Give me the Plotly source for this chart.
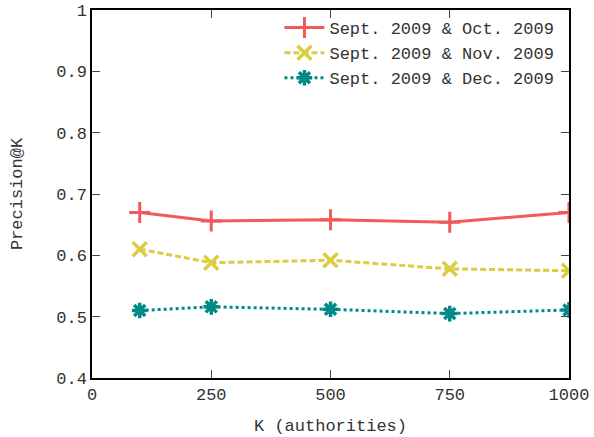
import plotly.graph_objects as go

k_values = [100, 250, 500, 750, 1000]
oct_values = [0.670, 0.656, 0.658, 0.654, 0.670]
nov_values = [0.610, 0.588, 0.592, 0.578, 0.575]
dec_values = [0.510, 0.516, 0.512, 0.505, 0.511]
series_names = ["Sept. 2009 & Oct. 2009", "Sept. 2009 & Nov. 2009", "Sept. 2009 & Dec. 2009"]
x_ticks = [0, 250, 500, 750, 1000]
y_ticks = [0.4, 0.5, 0.6, 0.7, 0.8, 0.9, 1.0]
y_tick_text = ["0.4", "0.5", "0.6", "0.7", "0.8", "0.9", "1"]

FONT = "Liberation Mono, Courier New, monospace"
TXT = "#333333"

fig = go.Figure()
fig.add_trace(go.Scatter(
    x=k_values, y=oct_values, name=series_names[0], mode="lines+markers",
    line=dict(color="#f05a5a", width=3, dash="solid"),
    marker=dict(symbol="cross-thin", size=15, line=dict(color="#f05a5a", width=3)),
))
fig.add_trace(go.Scatter(
    x=k_values, y=nov_values, name=series_names[1], mode="lines+markers",
    line=dict(color="#dccc40", width=3, dash="6px,3px"),
    marker=dict(symbol="x-thin", size=14, line=dict(color="#dccc40", width=3.5)),
))
fig.add_trace(go.Scatter(
    x=k_values, y=dec_values, name=series_names[2], mode="lines+markers",
    line=dict(color="#008a88", width=3, dash="3px,3px"),
    marker=dict(symbol="asterisk-open", size=13, line=dict(color="#008a88", width=3.5)),
))

fig.update_layout(
    width=594, height=437,
    margin=dict(l=92, r=25, t=10, b=59, autoexpand=False),
    paper_bgcolor="white", plot_bgcolor="white",
    font=dict(family=FONT, size=17, color=TXT),
    showlegend=True,
    legend=dict(x=0.98, y=1.0, xanchor="right", yanchor="top",
                bgcolor="rgba(255,255,255,0)", font=dict(family=FONT, size=17, color=TXT),
                tracegroupgap=0, itemwidth=40),
    xaxis=dict(
        range=[0, 1000], tickvals=x_ticks, ticks="inside", ticklen=8, tickwidth=1,
        showline=True, linecolor="black", linewidth=1.5, mirror="ticks",
        showgrid=False, zeroline=False, automargin=False,
        title=dict(text="K (authorities)", font=dict(family=FONT, size=17), standoff=15),
    ),
    yaxis=dict(
        range=[0.4, 1.0], tickvals=y_ticks, ticktext=y_tick_text, ticks="inside", ticklen=8, tickwidth=1,
        showline=True, linecolor="black", linewidth=1.5, mirror="ticks",
        showgrid=False, zeroline=False, automargin=False,
        title=dict(text="Precision@K", font=dict(family=FONT, size=17), standoff=29),
    ),
)

fig.write_html("out.html", config={"displayModeBar": False},
               post_script="document.body.style.margin='0';")
